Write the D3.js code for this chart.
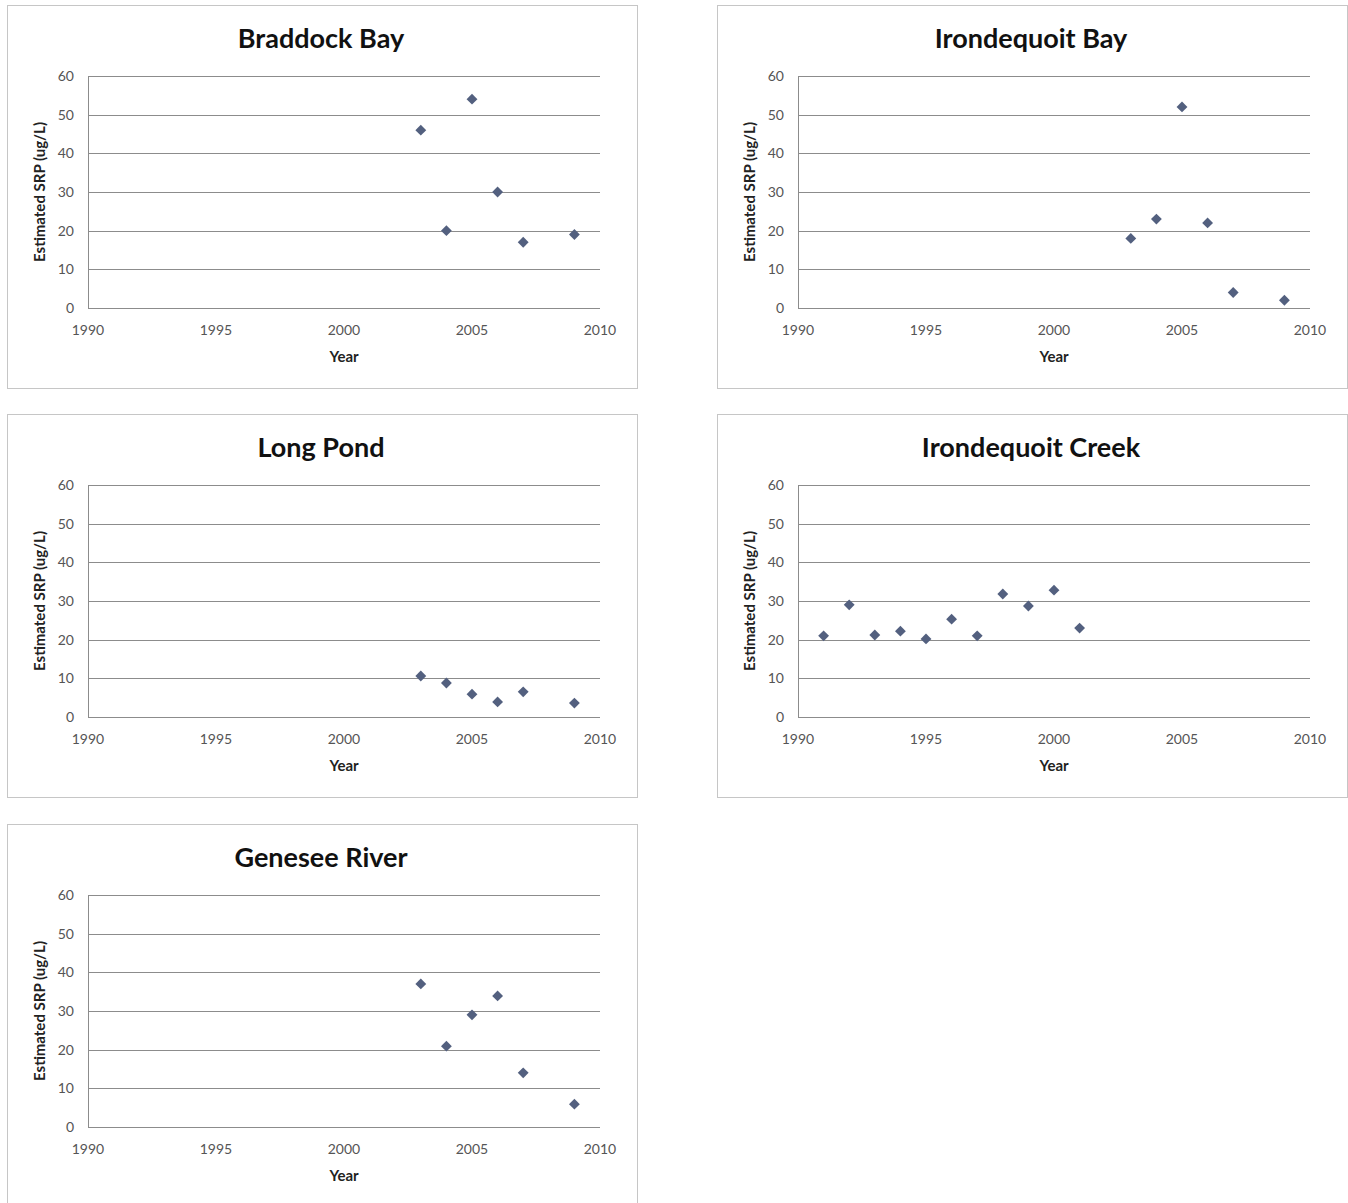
<!DOCTYPE html>
<html>
<head>
<meta charset="utf-8">
<script src="https://cdn.jsdelivr.net/npm/d3@7"></script>
<style>
  body { margin: 0; background: #fff; }
  svg { display: block; }
  text { font-family: Lato, "Noto Sans", sans-serif; }
</style>
</head>
<body>
<div id="chart"></div>
<script>
// site names, in panel order
const sites = ['Braddock Bay', 'Irondequoit Bay', 'Long Pond', 'Irondequoit Creek', 'Genesee River'];

// sampling years per site
const years2003 = [2003, 2004, 2005, 2006, 2007, 2009];
const creekYears = [1991, 1992, 1993, 1994, 1995, 1996, 1997, 1998, 1999, 2000, 2001];

// estimated SRP (ug/L)
const braddockBay = [46, 20, 54, 30, 17, 19];
const irondequoitBay = [18, 23, 52, 22, 4, 2];
const longPond = [10.6, 8.8, 5.9, 3.9, 6.5, 3.6];
const irondequoitCreek = [21, 29, 21.2, 22.2, 20.2, 25.3, 21, 31.8, 28.7, 32.8, 23];
const geneseeRiver = [37, 20.9, 29, 33.9, 14, 5.9];

const seriesYears = [years2003, years2003, years2003, creekYears, years2003];
const seriesValues = [braddockBay, irondequoitBay, longPond, irondequoitCreek, geneseeRiver];

const xTicks = [1990, 1995, 2000, 2005, 2010];
const yTicks = [0, 10, 20, 30, 40, 50, 60];

const W = 1348, H = 1203;
const panelW = 630, panelH = 383;
const colX = [7, 717];
const rowY = [5, 414, 824];
const plot = { left: 81, right: 593, top: 71, bottom: 303 };

const svg = d3.select('#chart').append('svg')
  .attr('width', W)
  .attr('height', H);

const x = d3.scaleLinear().domain([1990, 2010]).range([plot.left, plot.right]);
const y = d3.scaleLinear().domain([0, 60]).range([plot.bottom, plot.top]);

sites.forEach((name, i) => {
  const g = svg.append('g')
    .attr('transform', `translate(${colX[i % 2]},${rowY[Math.floor(i / 2)]})`);

  // panel frame
  g.append('rect')
    .attr('x', 0.5).attr('y', 0.5)
    .attr('width', panelW).attr('height', panelH)
    .attr('fill', '#fff')
    .attr('stroke', '#c6c6c6');

  // gridlines
  g.selectAll('.grid')
    .data(yTicks)
    .enter()
    .append('line')
    .attr('x1', plot.left)
    .attr('x2', plot.right)
    .attr('y1', d => Math.round(y(d)) + 0.5)
    .attr('y2', d => Math.round(y(d)) + 0.5)
    .attr('stroke', '#8c8c8c')
    .attr('stroke-width', 1);

  // y axis line
  g.append('line')
    .attr('x1', plot.left + 0.5).attr('x2', plot.left + 0.5)
    .attr('y1', plot.top).attr('y2', plot.bottom)
    .attr('stroke', '#8c8c8c');

  // y tick labels
  g.selectAll('.ylab')
    .data(yTicks)
    .enter()
    .append('text')
    .attr('x', plot.left - 14)
    .attr('y', d => y(d) + 5)
    .attr('text-anchor', 'end')
    .attr('font-size', '14px')
    .attr('fill', '#555')
    .text(d => d);

  // x tick labels
  g.selectAll('.xlab')
    .data(xTicks)
    .enter()
    .append('text')
    .attr('x', d => x(d))
    .attr('y', plot.bottom + 27)
    .attr('text-anchor', 'middle')
    .attr('font-size', '14px')
    .attr('fill', '#555')
    .text(d => d);

  // title
  g.append('text')
    .attr('x', 314)
    .attr('y', 43)
    .attr('text-anchor', 'middle')
    .attr('font-size', '27px')
    .attr('font-weight', 'bold')
    .attr('fill', '#111')
    .text(name);

  // axis titles
  g.append('text')
    .attr('x', (plot.left + plot.right) / 2)
    .attr('y', plot.bottom + 54)
    .attr('text-anchor', 'middle')
    .attr('font-size', '15px')
    .attr('font-weight', 'bold')
    .attr('fill', '#222')
    .text('Year');

  g.append('text')
    .attr('transform', `translate(38,${(plot.top + plot.bottom) / 2}) rotate(-90)`)
    .attr('text-anchor', 'middle')
    .attr('font-size', '15px')
    .attr('font-weight', 'bold')
    .attr('fill', '#222')
    .text('Estimated SRP (ug/L)');

  // points
  const pts = seriesYears[i].map((yr, j) => ({ yr, v: seriesValues[i][j] }));
  g.selectAll('.pt')
    .data(pts)
    .enter()
    .append('path')
    .attr('d', d3.symbol().type(d3.symbolDiamond2).size(75))
    .attr('transform', d => `translate(${x(d.yr)},${y(d.v)})`)
    .attr('fill', '#53607f');
});
</script>
</body>
</html>
